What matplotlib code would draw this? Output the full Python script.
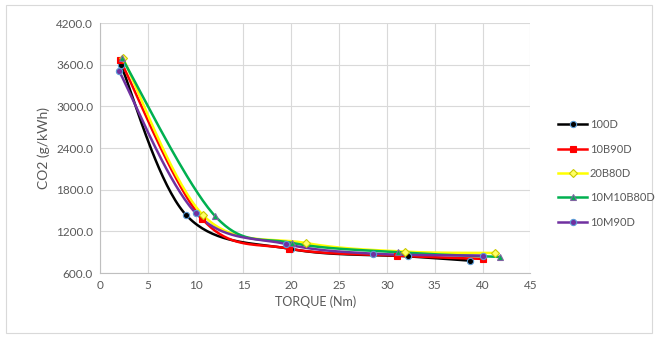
import numpy as np
import matplotlib
matplotlib.use("Agg")
from matplotlib import pyplot as plt
from matplotlib.patches import Rectangle

plt.rcParams['font.family'] = ['Lato', 'DejaVu Sans']

names = ["100D", "10B90D", "20B80D", "10M10B80D", "10M90D"]

torque_100D = [2.2, 9.0, 20.0, 32.2, 38.7]
co2_100D = [3590, 1436, 945, 840, 778]

torque_10B90D = [2.1, 10.7, 19.8, 31.1, 40.1]
co2_10B90D = [3672, 1378, 951, 851, 803]

torque_20B80D = [2.4, 10.8, 21.5, 31.9, 41.3]
co2_20B80D = [3695, 1430, 1033, 908, 889]

torque_10M10B80D = [2.3, 12.0, 20.1, 31.2, 41.8]
co2_10M10B80D = [3695, 1425, 1033, 898, 832]

torque_10M90D = [2.0, 10.0, 19.4, 28.5, 40.0]
co2_10M90D = [3508, 1465, 1019, 879, 851]

series_x = [torque_100D, torque_10B90D, torque_20B80D, torque_10M10B80D, torque_10M90D]
series_y = [co2_100D, co2_10B90D, co2_20B80D, co2_10M10B80D, co2_10M90D]

line_colors = ["#000000", "#ff0000", "#ffff00", "#00b050", "#7030a0"]
marker_faces = ["#000000", "#ff0000", "#ffff66", "#00b050", "#7030a0"]
marker_edges = ["#5b9bd5", "#ff0000", "#c9c900", "#8064a2", "#5b9bd5"]
markers = ["o", "s", "D", "^", "o"]
msizes = [4.5, 4.8, 3.6, 5, 4.5]


def excel_smooth(x, y, n=40):
    # bezier through points, control points like excel's smoothed line
    x = np.asarray(x, float)
    y = np.asarray(y, float)
    px = np.concatenate([[x[0]], x, [x[-1]]])
    py = np.concatenate([[y[0]], y, [y[-1]]])
    out_x, out_y = [], []
    t = np.linspace(0, 1, n)
    for i in range(1, len(px) - 2):
        p0 = np.array([px[i], py[i]])
        p3 = np.array([px[i + 1], py[i + 1]])
        p1 = p0 + (np.array([px[i + 1], py[i + 1]]) - np.array([px[i - 1], py[i - 1]])) / 6
        p2 = p3 - (np.array([px[i + 2], py[i + 2]]) - np.array([px[i], py[i]])) / 6
        b = ((1 - t) ** 3)[:, None] * p0 + (3 * (1 - t) ** 2 * t)[:, None] * p1 \
            + (3 * (1 - t) * t ** 2)[:, None] * p2 + (t ** 3)[:, None] * p3
        out_x.extend(b[:, 0])
        out_y.extend(b[:, 1])
    return out_x, out_y


fig = plt.figure(figsize=(6.58, 3.40), dpi=100)
fig.patches.append(Rectangle((0.009, 0.02), 0.982, 0.965, transform=fig.transFigure,
                             fill=False, edgecolor="#d9d9d9", lw=0.8))
ax = fig.add_axes([0.152, 0.197, 0.654, 0.735])

handles = []
for i in range(len(names)):
    sx, sy = excel_smooth(series_x[i], series_y[i])
    ax.plot(sx, sy, color=line_colors[i], lw=1.8, zorder=3)
    ax.plot(series_x[i], series_y[i], linestyle="none", marker=markers[i], ms=msizes[i],
            markerfacecolor=marker_faces[i], markeredgecolor=marker_edges[i], mew=0.8, zorder=4)
    h, = ax.plot([], [], color=line_colors[i], lw=1.8, marker=markers[i], ms=msizes[i],
                 markerfacecolor=marker_faces[i], markeredgecolor=marker_edges[i], mew=0.8)
    handles.append(h)

ax.set_xlim(0, 45)
ax.set_ylim(600, 4200)
ax.set_xticks(np.arange(0, 46, 5))
ax.set_yticks(np.arange(600, 4201, 600))
ax.set_yticklabels(["%.1f" % v for v in np.arange(600, 4201, 600)])
ax.grid(True, color="#d9d9d9", lw=0.8)
ax.set_axisbelow(True)
for s in ["top", "right"]:
    ax.spines[s].set_visible(False)
for s in ["left", "bottom"]:
    ax.spines[s].set_color("#bfbfbf")
ax.tick_params(length=0, labelsize=8.5, colors="#595959", pad=5)
ax.set_xlabel("TORQUE (Nm)", fontsize=9, color="#595959", labelpad=3)
ax.set_ylabel("CO2 (g/kWh)", fontsize=10, color="#595959", labelpad=4)

fig.legend(handles, names, loc="center left", bbox_to_anchor=(0.833, 0.49), frameon=False,
           fontsize=8, labelcolor="#595959", handlelength=2.6, labelspacing=1.2,
           handletextpad=0.25)

fig.savefig("out.png", dpi=100)
